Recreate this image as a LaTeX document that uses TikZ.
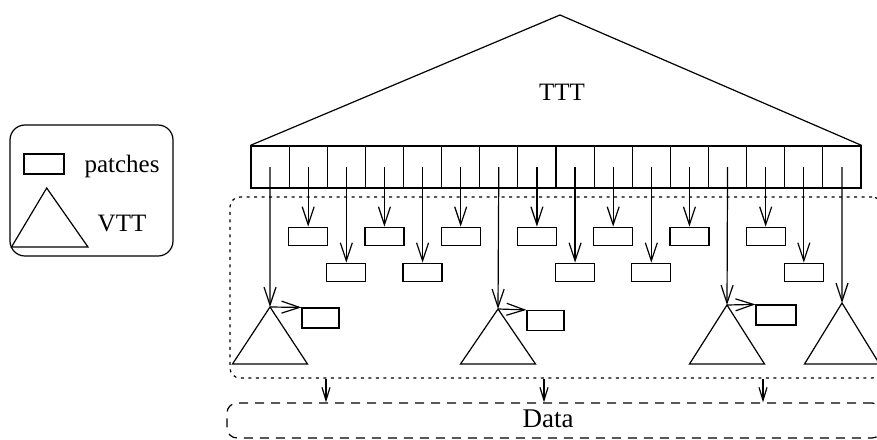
\documentclass[tikz,border=0pt]{standalone}
\usepackage{fontspec}
\setmainfont{Liberation Serif}
\usetikzlibrary{arrows.meta, positioning}

\begin{document}
\begin{tikzpicture}[x=1pt, y=-1pt, line width=1.2pt,
    cell/.style={draw, minimum width=38.125pt, minimum height=42pt, inner sep=0pt},
    patch/.style={draw, minimum width=39pt, minimum height=18pt, inner sep=0pt},
    barb/.style={-{Straight Barb[length=18pt, width=12pt]}},
    smallbarb/.style={-{Straight Barb[length=13pt, width=8pt]}},
    lbl/.style={font=\fontsize{25}{29}\selectfont, inner sep=0pt}]
  \useasboundingbox (0,0) rectangle (877,439);
  \clip (0,0) rectangle (877,439);
  % Legend
  \node[draw, rounded corners=15pt, minimum width=163pt, minimum height=131pt]
    (legend) at (91.5,190.5) {};
  \node[patch, minimum width=40pt, minimum height=20pt] (lpatch) at (44,164) {};
  \node[lbl] (lpatches) at (122,166) {patches};
  \coordinate (ltop) at (46.7,188);
  \draw (ltop) -- (11.5,247) -- (88,247) -- cycle;
  \node[lbl] (lvtt) at (122,224) {VTT};
  % Top tree with its row of cells
  \foreach \i in {1,...,16} {
    \node[cell] (c\i) at ({251+38.125*(\i-0.5)},167) {};
  }
  \coordinate (apex) at (560,15);
  \draw (c1.north west) -- (apex) -- (c16.north east);
  \node[lbl] (ttt) at (562,92) {TTT};
  % Dotted region and data store
  \node[draw, dash pattern=on 3pt off 4.5pt, rounded corners=10pt,
        minimum width=652pt, minimum height=181pt] (vbox) at (556,287.5) {};
  \node[draw, dash pattern=on 9pt off 7pt, rounded corners=10pt,
        minimum width=655pt, minimum height=35pt] (data) at (554.5,420.5) {};
  \node[lbl, font=\fontsize{27}{31}\selectfont] (datatxt) at (548,419) {Data};
  \foreach \dx [count=\k] in {-230,-12,207} {
    \coordinate (s\k) at ([xshift=\dx pt]vbox.south);
    \draw[smallbarb] (s\k) -- (s\k |- data.north);
  }
  % Patches hanging from the cells
  \foreach \i in {2,4,6,8,10,12,14} {
    \node[patch, below=38pt of c\i] (p\i) {};
    \draw[barb] (c\i.center) -- (p\i.north);
  }
  \foreach \i in {3,5,9,11,15} {
    \node[patch, below=74pt of c\i] (p\i) {};
    \draw[barb] (c\i.center) -- (p\i.north);
  }
  % VTT subtrees
  \foreach \n/\c/\x/\y in {1/1/270/307, 2/7/498/309, 3/13/727/305, 4/16/842/303} {
    \coordinate (v\n) at (\x,\y);
    \draw (v\n) -- (\x-37.5,364) -- (\x+37.5,364) -- cycle;
    \draw[barb] (c\c.center) -- (v\n);
  }
  % Patches beside the subtrees
  \node[patch, minimum width=37pt, minimum height=20pt] (q1) at (320.5,318) {};
  \node[patch, minimum width=37pt, minimum height=20pt] (q2) at (545.5,320.5) {};
  \node[patch, minimum width=40pt, minimum height=20pt] (q3) at (776,315) {};
  \foreach \n in {1,2,3} {
    \draw[barb] (v\n) -- (q\n.north west);
  }
\end{tikzpicture}
\end{document}
